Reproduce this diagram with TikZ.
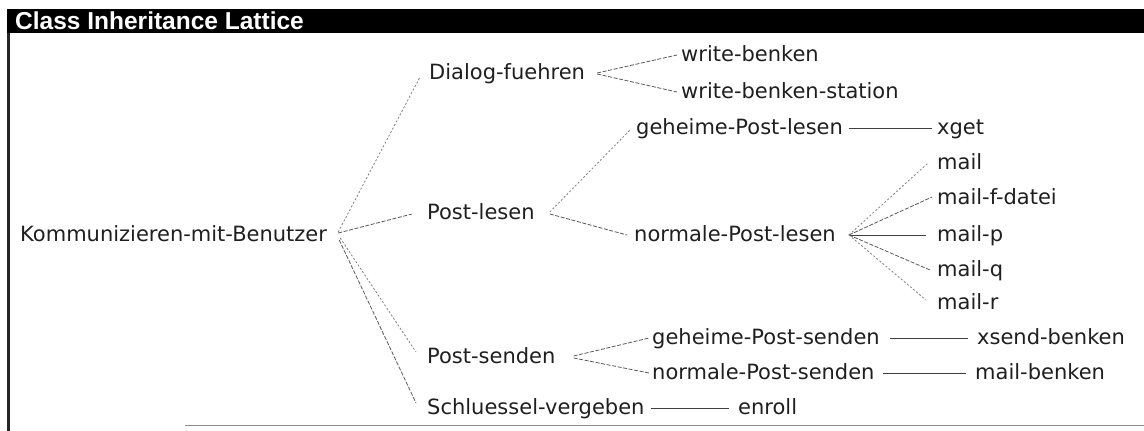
\documentclass[tikz,border=0pt]{standalone}
\usepackage{fontspec}
\newfontfamily\nodefont{DejaVu Sans}
\newfontfamily\titlefont{Liberation Sans}[BoldFont={Liberation Sans Bold}]
\begin{document}
\begin{tikzpicture}[x=1pt,y=-1pt,
  lbl/.style={anchor=base west, inner sep=0pt, text=black!88,
    font=\nodefont\fontsize{21}{25}\selectfont},
  edge/.style={draw=black!65, line width=0.8pt, dash pattern=on 4pt off 1.6pt},
  steep/.style={draw=black!50, line width=0.8pt, dash pattern=on 2pt off 2pt},
  hl/.style={draw=black!75, line width=0.9pt}]
\useasboundingbox (0,0) rectangle (1144,431);
% window frame
\fill[black] (7,9) rectangle (1144,33);
\node[anchor=base west, inner sep=0pt, text=white,
  font=\titlefont\bfseries\fontsize{24.5}{28}\selectfont] (title) at (15,30) {Class Inheritance Lattice};
\draw[line width=2.5pt, black!85] (8.5,33) -- (8.5,431);
\draw[line width=1.5pt, black!45] (185,425.5) -- (1144,425.5);
% nodes
\node[lbl] (root) at (20,241) {Kommunizieren-mit-Benutzer};
\node[lbl] (dial) at (429,79) {Dialog-fuehren};
\node[lbl] (wb) at (681,61) {write-benken};
\node[lbl] (wbs) at (681,98) {write-benken-station};
\node[lbl] (pl) at (427,219) {Post-lesen};
\node[lbl] (gpl) at (636,134) {geheime-Post-lesen};
\node[lbl] (xget) at (937,134) {xget};
\node[lbl] (npl) at (634,241) {normale-Post-lesen};
\node[lbl] (m) at (937,169) {mail};
\node[lbl] (mfd) at (937,204) {mail-f-datei};
\node[lbl] (mp) at (937,241) {mail-p};
\node[lbl] (mq) at (937,276) {mail-q};
\node[lbl] (mr) at (937,309) {mail-r};
\node[lbl] (ps) at (427,363) {Post-senden};
\node[lbl] (gps) at (652,344) {geheime-Post-senden};
\node[lbl] (xs) at (977,344) {xsend-benken};
\node[lbl] (nps) at (652,379) {normale-Post-senden};
\node[lbl] (mb) at (975,379) {mail-benken};
\node[lbl] (sv) at (427,414) {Schluessel-vergeben};
\node[lbl] (en) at (738,414) {enroll};
% connectors from root
\draw[steep] ([xshift=11pt,yshift=9pt]root.base east) -- ([xshift=-9pt,yshift=2pt]dial.base west);
\draw[edge] ([xshift=11pt,yshift=8pt]root.base east) -- ([xshift=-15pt,yshift=5pt]pl.base west);
\draw[steep] ([xshift=13pt,yshift=3pt]root.base east) -- ([xshift=-11pt,yshift=11pt]ps.base west);
\draw[edge] ([xshift=12pt,yshift=1pt]root.base east) -- ([xshift=-11pt,yshift=11pt]sv.base west);
% Dialog-fuehren
\draw[edge] ([xshift=12pt,yshift=6pt]dial.base east) -- ([xshift=-4pt,yshift=6pt]wb.base west);
\draw[edge] ([xshift=12pt,yshift=5pt]dial.base east) -- ([xshift=-4pt,yshift=6pt]wbs.base west);
% Post-lesen
\draw[steep] ([xshift=15pt,yshift=7pt]pl.base east) -- ([xshift=-6pt,yshift=4pt]gpl.base west);
\draw[edge] ([xshift=15pt,yshift=5pt]pl.base east) -- ([xshift=-7pt,yshift=6pt]npl.base west);
\draw[hl] ([xshift=6pt,yshift=6pt]gpl.base east) -- ([xshift=-5pt,yshift=6pt]xget.base west);
% normale-Post-lesen
\draw[steep] ([xshift=13pt,yshift=6pt]npl.base east) -- ([xshift=-9pt,yshift=6pt]m.base west);
\draw[edge] ([xshift=13pt,yshift=6pt]npl.base east) -- ([xshift=-5pt,yshift=7pt]mfd.base west);
\draw[hl] ([xshift=13pt,yshift=6pt]npl.base east) -- ([xshift=-11pt,yshift=6pt]mp.base west);
\draw[edge] ([xshift=13pt,yshift=6pt]npl.base east) -- ([xshift=-7pt,yshift=6pt]mq.base west);
\draw[steep] ([xshift=13pt,yshift=6pt]npl.base east) -- ([xshift=-11pt,yshift=9pt]mr.base west);
% Post-senden
\draw[edge] ([xshift=18pt,yshift=7pt]ps.base east) -- ([xshift=-3pt,yshift=6pt]gps.base west);
\draw[edge] ([xshift=18pt,yshift=5pt]ps.base east) -- ([xshift=-3pt,yshift=6pt]nps.base west);
\draw[hl] ([xshift=10pt,yshift=6pt]gps.base east) -- ([xshift=-9pt,yshift=6pt]xs.base west);
\draw[hl] ([xshift=8pt,yshift=6pt]nps.base east) -- ([xshift=-9pt,yshift=6pt]mb.base west);
% Schluessel-vergeben
\draw[hl] ([xshift=6pt,yshift=6pt]sv.base east) -- ([xshift=-9pt,yshift=6pt]en.base west);
\end{tikzpicture}
\end{document}
